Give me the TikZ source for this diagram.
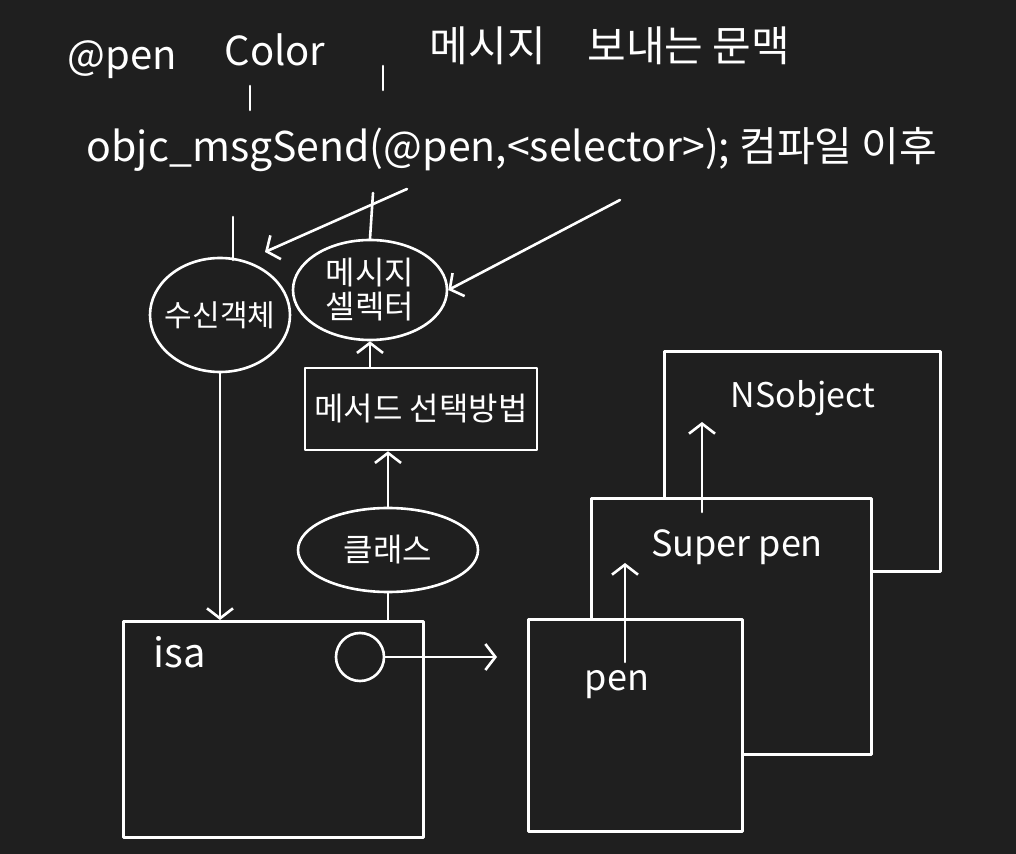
\documentclass[tikz,border=0pt]{standalone}
\usepackage{fontspec}
\setmainfont{Noto Sans CJK KR}
\usetikzlibrary{arrows.meta,positioning,shapes.geometric}

\definecolor{board}{RGB}{31,31,31}

\tikzset{
    ink/.style={draw=white, line width=1.3pt, line cap=round, line join=round},
    tip/.style={ink, -{Straight Barb[length=5pt,width=13pt]}},
    txt/.style={text=white, inner sep=0pt},
    bubble/.style={ink, ellipse, inner sep=0pt, align=center, text=white},
    card/.style={ink, rectangle, inner sep=0pt, fill=board},
}

\begin{document}
\begin{tikzpicture}[x=0.5pt, y=-0.5pt]
    % Board
    \fill[board] (0,0) rectangle (1016,854);
    \useasboundingbox (0,0) rectangle (1016,854);

    % Context line
    \node[txt, font=\fontsize{20}{24}\selectfont] (penref) at (122,60) {@pen};
    \node[txt, font=\fontsize{20}{24}\selectfont] (colorref) at (275,50) {Color};
    \node[txt, font=\fontsize{21}{25}\selectfont] (context) at (610,46) {메시지\quad 보내는 문맥};
    \draw[ink] (250,86) -- (250,110);
    \draw[ink] (383,66) -- (383,90);

    % Compiled call
    \node[txt, font=\fontsize{20.5}{24}\selectfont] (call) at (512,150) {objc\_msgSend(@pen,<selector>); 컴파일 이후};

    % Receiver and selector
    \node[bubble, inner xsep=-8pt, minimum width=70pt, minimum height=57pt, font=\fontsize{15}{18}\selectfont] (rcv) at (220,315) {수신객체};
    \node[bubble, minimum width=77pt, minimum height=50pt, font=\fontsize{16}{17}\selectfont] (sel) at (370,290) {메시지\\셀렉터};
    \draw[ink] (233,217) -- (233,260);
    \draw[ink] (373,193) -- (sel.north);
    \coordinate (fromA) at (407,189);
    \coordinate (fromB) at (620,200);
    \coordinate (rcvIn) at (265,252);
    \draw[tip] (fromA) -- (rcvIn);
    \draw[tip] (fromB) -- (sel.east);

    % Method lookup
    \node[card, minimum width=116pt, minimum height=41pt, font=\fontsize{16}{18}\selectfont, text=white] (lookup) at (421,409) {메서드 선택방법};
    \draw[tip] (lookup.north -| sel.south) -- (sel.south);
    \node[bubble, minimum width=90pt, minimum height=42pt, font=\fontsize{16}{18}\selectfont] (cls) at (388,550) {클래스};
    \draw[tip] (cls.north) -- (cls.north |- lookup.south);

    % Object with isa
    \node[card, minimum width=150pt, minimum height=108pt, anchor=north west] (obj) at (122,620) {};
    \node[txt, font=\fontsize{20}{24}\selectfont] (isa) at (180,652) {isa};
    \node[ink, circle, minimum size=24pt, inner sep=0pt] (slot) at (360,657) {};
    \draw[ink] (cls.south) -- (cls.south |- obj.north);
    \draw[tip] (rcv.south) -- (rcv.south |- obj.north);
    \coordinate (toPen) at (497,657);
    \draw[tip] (slot.east) -- (toPen);

    % Class hierarchy
    \node[card, minimum width=138pt, minimum height=110pt, anchor=north west] (root) at (663,350) {};
    \node[txt, font=\fontsize{17}{20}\selectfont] (nsobj) at (803,398) {NSobject};
    \node[card, minimum width=140pt, minimum height=128pt, anchor=north west] (super) at (590,497) {};
    \node[txt, font=\fontsize{18}{22}\selectfont] (superpen) at (737,547) {Super pen};
    \node[card, minimum width=107pt, minimum height=106pt, anchor=north west] (pen) at (527,618) {};
    \node[txt, font=\fontsize{18}{22}\selectfont] (pentxt) at (617,685) {pen};
    \draw[tip] (625,662) -- (625,563);
    \draw[tip] (702,512) -- (702,422);
\end{tikzpicture}
\end{document}
